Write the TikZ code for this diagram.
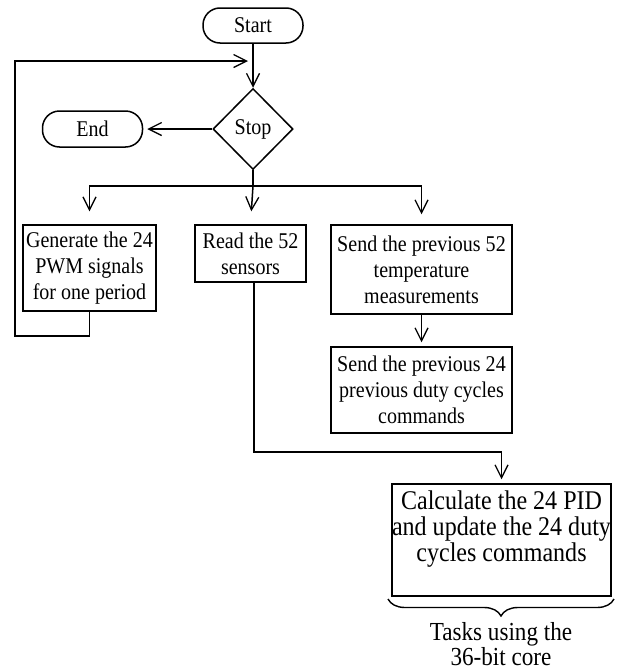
\documentclass[tikz,border=0pt]{standalone}
\usepackage{fontspec}
\setmainfont[FakeStretch=0.89]{Liberation Serif}
\usetikzlibrary{arrows.meta,shapes.geometric,decorations.pathreplacing}
\begin{document}
\begin{tikzpicture}[x=1pt,y=-1pt,line width=1.5pt,
  arr/.style={-{Straight Barb[length=13pt,width=13pt,line width=1.3pt]}},
  box/.style={draw,rectangle,inner sep=0pt,align=center,font=\fontsize{22.5}{26}\selectfont},
  bigbox/.style={draw,rectangle,inner sep=0pt,align=center,font=\fontsize{27}{26}\selectfont},
  term/.style={draw,rectangle,rounded corners=17pt,inner sep=0pt,font=\fontsize{22.5}{26}\selectfont},
  dec/.style={draw,diamond,inner sep=0pt,font=\fontsize{22.5}{26}\selectfont},
  note/.style={align=center,inner sep=0pt,font=\fontsize{26}{21}\selectfont}]
\useasboundingbox (0,0) rectangle (619,672);

\node[term,minimum width=100pt,minimum height=35pt] (start) at (253,25.5) {Start};
\node[dec,minimum width=80pt,minimum height=81pt] (stop) at (253,129) {Stop};
\node[term,minimum width=100pt,minimum height=36pt] (end) at (92.5,129) {End};

\node[box,minimum width=133pt,minimum height=86pt] (gen) at (89.5,268) {Generate the 24\\PWM signals\\for one period};
\node[box,minimum width=111pt,minimum height=57pt] (read) at (250.5,253.5) {Read the 52\\sensors};
\node[box,minimum width=181pt,minimum height=89pt] (send1) at (421.5,269.5) {Send the previous 52\\temperature\\measurements};
\node[box,minimum width=181pt,minimum height=86pt] (send2) at (421.5,390) {Send the previous 24\\previous duty cycles\\commands};
\node[bigbox,minimum width=219pt,minimum height=112pt] (calc) at (501.5,540) {Calculate the 24 PID\\and update the 24 duty\\cycles commands\\[2pt]\mbox{}};

\coordinate (loopin) at (248,61);
\coordinate (br) at (253,186);
\coordinate (bl) at (388,599);
\coordinate (bR) at (614,599);

\draw[arr] (start) -- (stop);
\draw[arr,shorten >=4pt] (stop) -- (end);
\draw (stop.south) -- (br);
\draw[arr,shorten >=13pt] (br) -| (gen.north);
\draw[arr,shorten >=13pt] (br) -- (read.north);
\draw[arr,shorten >=10pt] (br) -| (send1.north);
\draw[arr,shorten >=4pt] (send1) -- (send2);
\draw[arr] (gen.south) -- (gen.south |- 0,336) -| (15,61) -- (loopin);
\draw[arr,shorten >=4pt] ([xshift=3.5pt]read.south) -- ([xshift=3.5pt]read.south |- 0,452) -| (calc.north);

\draw[line width=1.4pt,decorate,decoration={brace,mirror,amplitude=17pt}] (bl) -- (bR);
\node[note] (tasks) at (501,644) {Tasks using the\\36-bit core};
\end{tikzpicture}
\end{document}
